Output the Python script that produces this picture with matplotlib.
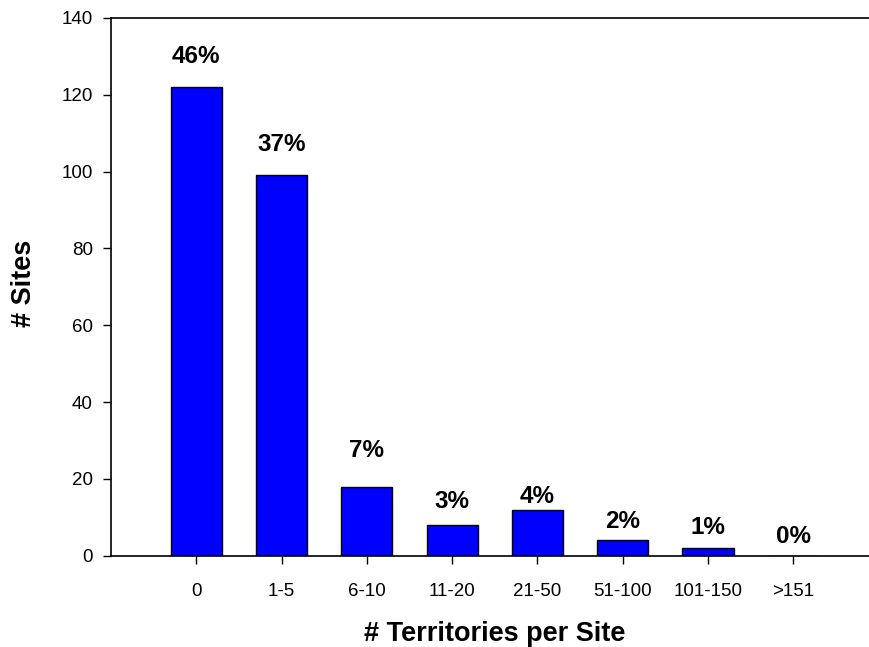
import matplotlib
matplotlib.use("Agg")
import matplotlib.pyplot as plt

categories = ["0", "1-5", "6-10", "11-20", "21-50", "51-100", "101-150", ">151"]
sites = [122, 99, 18, 8, 12, 4, 2, 0]
percent_labels = ["46%", "37%", "7%", "3%", "4%", "2%", "1%", "0%"]
label_heights = [130, 107, 27.3, 14, 15.5, 9, 7.3, 5]

plt.rcParams['font.family'] = ['Liberation Sans', 'DejaVu Sans']

fig = plt.figure(figsize=(8.7, 6.47), dpi=100)
ax = fig.add_axes([111/870, 1 - 555.7/647, 1 - 111/870, (555.7 - 18)/647])

x = list(range(len(categories)))
ax.bar(x, sites, width=0.6, color="#0000FF", edgecolor="black", linewidth=1.0)

for xi, lab, h in zip(x, percent_labels, label_heights):
    ax.text(xi, h, lab, ha="center", va="center", fontsize=17.5, fontweight="bold")

ax.set_xlim(-1, 7.9)
ax.set_ylim(0, 140)
ax.set_yticks(range(0, 141, 20))
ax.set_xticks(x)
ax.set_xticklabels(categories)
ax.tick_params(axis="both", direction="out", length=6, width=1, labelsize=13.5)
ax.tick_params(axis="y", pad=7)
ax.tick_params(axis="x", pad=14)
ax.spines["right"].set_visible(False)
for s in ["top", "left", "bottom"]:
    ax.spines[s].set_linewidth(1.2)

fig.text(495/870, 1 - 634/647, "# Territories per Site", fontsize=19.5,
         fontweight="bold", ha="center", va="center")
fig.text(24/870, 1 - 283/647, "# Sites", fontsize=19.5, fontweight="bold",
         ha="center", va="center", rotation=90)

fig.savefig("out.png", dpi=100)
